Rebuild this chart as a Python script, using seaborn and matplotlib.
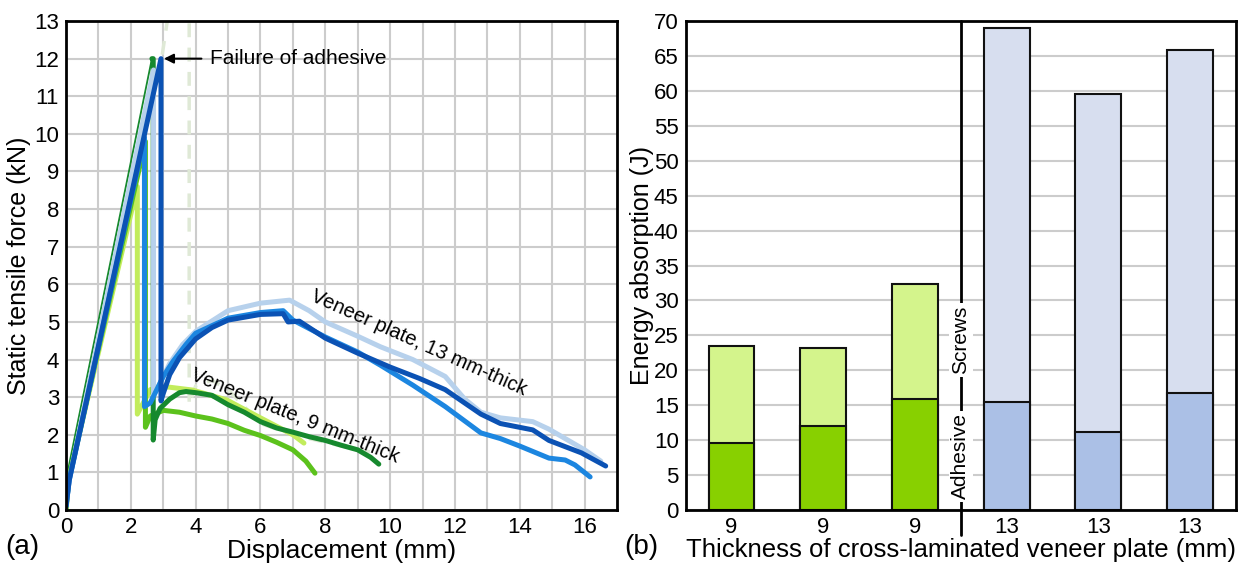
import pandas as pd
import numpy as np
import matplotlib
matplotlib.use('Agg')
import matplotlib.pyplot as plt
import seaborn as sns

# ---- (a) force-displacement curves ----
# 9 mm-thick plates
g1_x = [0, 0.08, 2.2, 2.2, 2.6, 3.15, 3.9, 4.95, 6.0, 7.0, 7.34]
g1_y = [0, 0.8, 8.6, 2.55, 3.2, 3.27, 3.19, 2.93, 2.45, 2.0, 1.78]
g2_x = [0, 0.08, 2.45, 2.45, 2.6, 3.0, 3.5, 4.0, 4.5, 5.0, 5.5, 6.0, 6.5, 7.0, 7.4, 7.68]
g2_y = [0, 0.8, 9.8, 2.2, 2.5, 2.65, 2.6, 2.5, 2.42, 2.3, 2.12, 1.98, 1.8, 1.6, 1.3, 0.98]
g3_rise_x = [0, 2.65]
g3_rise_y = [0.8, 12.0]
g3_x = [2.65, 2.69, 2.69, 2.75, 2.9, 3.2, 3.5, 3.7, 4.0, 4.5, 5.0, 5.5, 6.0, 6.5, 7.0, 7.5, 8.0,
        8.5, 9.0, 9.4, 9.65]
g3_y = [12.0, 12.0, 1.86, 2.4, 2.7, 2.95, 3.12, 3.15, 3.12, 3.05, 2.8, 2.6, 2.35, 2.18, 2.07, 1.95,
        1.85, 1.72, 1.6, 1.4, 1.22]
# 13 mm-thick plates
b1_x = [0, 0.1, 2.7, 2.7, 2.8, 3.2, 3.6, 4.0, 5.0, 6.0, 6.9, 7.5, 8.0, 9.0, 9.7, 10.7, 11.7,
        12.3, 12.8, 13.4, 14.4, 14.9, 15.5, 16.0, 16.5]
b1_y = [0.1, 0.8, 11.7, 3.05, 3.2, 3.9, 4.4, 4.75, 5.3, 5.5, 5.58, 5.3, 5.0, 4.62, 4.34, 4.0, 3.55,
        2.95, 2.6, 2.45, 2.35, 2.15, 1.85, 1.6, 1.3]
b2_x = [0, 0.1, 2.42, 2.42, 2.6, 2.8, 3.0, 3.3, 3.7, 4.0, 4.5, 5.0, 6.0, 6.7, 7.0, 8.0, 9.0, 9.7,
        10.7, 11.7, 12.8, 13.4, 14.0, 14.9, 15.4, 15.7, 16.17]
b2_y = [0.1, 0.8, 9.9, 2.75, 2.85, 3.2, 3.55, 3.95, 4.4, 4.7, 4.9, 5.1, 5.25, 5.3, 5.05, 4.6, 4.2,
        3.85, 3.32, 2.75, 2.05, 1.9, 1.7, 1.38, 1.33, 1.2, 0.88]
b3_x = [0, 0.1, 2.93, 2.93, 3.0, 3.2, 3.5, 4.0, 4.5, 5.0, 6.0, 6.7, 6.85, 7.2, 8.0, 9.0, 10.0,
        10.9, 11.7, 12.8, 13.4, 14.4, 14.9, 15.9, 16.65]
b3_y = [0.1, 0.8, 12.0, 2.9, 3.1, 3.6, 4.05, 4.55, 4.85, 5.05, 5.2, 5.22, 5.0, 5.02, 4.57, 4.17,
        3.8, 3.5, 3.2, 2.55, 2.3, 2.13, 1.85, 1.52, 1.17]
# faint dashed trace
f_x = [0, 0.1, 2.95, 3.3, 3.8, 3.8, 4.0, 4.5, 5.0, 6.0, 7.0, 8.0, 9.0, 9.7]
f_y = [0.1, 0.8, 12.0, 14.0, 14.0, 2.8, 3.3, 3.45, 3.2, 2.3, 2.0, 1.8, 1.6, 1.5]

curve_names = ['9 mm A', '9 mm B', '9 mm C', '13 mm A', '13 mm B', '13 mm C']
curve_colors = ['#c2ec5c', '#5cc21c', '#16892e', '#b7d1ec', '#1c86e0', '#0b52b4']

# ---- (b) energy absorption ----
bar_ids = ['a', 'b', 'c', 'd', 'e', 'f']
bar_labels = ['9', '9', '9', '13', '13', '13']
energy_total = [23.5, 23.2, 32.3, 69.0, 59.5, 65.8]
energy_adhesive = [9.6, 12.1, 15.9, 15.5, 11.2, 16.8]
light_cols = ['#d4f48c'] * 3 + ['#d7deef'] * 3
dark_cols = ['#88d000'] * 3 + ['#abc0e6'] * 3

sns.set_theme(style='whitegrid')
plt.rcParams['font.family'] = ['Liberation Sans', 'DejaVu Sans']
plt.rcParams['text.color'] = 'black'
plt.rcParams['axes.labelcolor'] = 'black'

fig = plt.figure(figsize=(12.41, 5.64), dpi=100)
ax1 = fig.add_axes([0.0532, 0.0957, 0.444, 0.867])
ax2 = fig.add_axes([0.5525, 0.0957, 0.4434, 0.867])

# left panel
frames = []
for name, xs, ys in zip(curve_names, [g1_x, g2_x, g3_x, b1_x, b2_x, b3_x],
                        [g1_y, g2_y, g3_y, b1_y, b2_y, b3_y]):
    frames.append(pd.DataFrame({'x': xs, 'y': ys, 'curve': name}))
curves = pd.concat(frames, ignore_index=True)

sns.lineplot(x=f_x, y=f_y, ax=ax1, color='#dfe9d6', lw=2.5, linestyle=(0, (4, 3)),
             sort=False, estimator=None)
sns.lineplot(x=g3_rise_x, y=g3_rise_y, ax=ax1, color='#16892e', lw=1.3,
             sort=False, estimator=None)
sns.lineplot(data=curves, x='x', y='y', hue='curve', hue_order=curve_names,
             palette=dict(zip(curve_names, curve_colors)), ax=ax1, lw=3.6,
             sort=False, estimator=None, legend=False,
             solid_capstyle='round', solid_joinstyle='round')

ax1.set_xlim(0, 17)
ax1.set_ylim(0, 13)
ax1.set_xticks(range(0, 17))
ax1.set_xticklabels([str(v) if v % 2 == 0 else '' for v in range(0, 17)])
ax1.set_yticks(range(0, 14))
ax1.set_xlabel('Displacement (mm)', fontsize=19, labelpad=1)
ax1.set_ylabel('Static tensile force (kN)', fontsize=18, labelpad=2)

ax1.annotate('Failure of adhesive', xy=(3.02, 12), xytext=(4.45, 12), fontsize=15,
             va='center', ha='left',
             arrowprops=dict(arrowstyle='-|>', color='black', lw=1.5,
                             shrinkA=4, shrinkB=0, mutation_scale=14))
ax1.text(7.7, 5.95, 'Veneer plate, 13 mm-thick', fontsize=14.5, rotation=-24,
         rotation_mode='anchor', ha='left', va='top')
ax1.text(3.98, 3.85, 'Veneer plate, 9 mm-thick', fontsize=14.5, rotation=-22,
         rotation_mode='anchor', ha='left', va='top')

# right panel
sns.barplot(x=bar_ids, y=energy_total, hue=bar_ids, palette=light_cols, order=bar_ids,
            width=0.5, saturation=1, edgecolor='#111111', linewidth=1.5, legend=False, ax=ax2)
sns.barplot(x=bar_ids, y=energy_adhesive, hue=bar_ids, palette=dark_cols, order=bar_ids,
            width=0.5, saturation=1, edgecolor='#111111', linewidth=1.5, legend=False, ax=ax2)
ax2.set_xlim(-0.5, 5.5)
ax2.set_ylim(0, 70)
ax2.set_yticks(range(0, 71, 5))
ax2.set_xticks(range(6))
ax2.set_xticklabels(bar_labels)
ax2.set_xlabel('Thickness of cross-laminated veneer plate (mm)', fontsize=18.5, labelpad=0)
ax2.set_ylabel('Energy absorption (J)', fontsize=18, labelpad=0)
ax2.axvline(2.5, ymin=-0.052, ymax=1, color='black', lw=2, clip_on=False, zorder=3)
ax2.text(2.5, 7.7, 'Adhesive', rotation=90, ha='center', va='center', fontsize=15, zorder=4,
         bbox=dict(facecolor='white', edgecolor='none', pad=2))
ax2.text(2.5, 24.3, 'Screws', rotation=90, ha='center', va='center', fontsize=15, zorder=4,
         bbox=dict(facecolor='white', edgecolor='none', pad=2))

for ax in (ax1, ax2):
    ax.set_facecolor('white')
    ax.grid(color='#cccccc', lw=1.5)
    ax.set_axisbelow(True)
    ax.tick_params(length=0, labelsize=16, pad=5, colors='black')
    for s in ax.spines.values():
        s.set_color('black')
        s.set_linewidth(2)
ax2.grid(axis='x', visible=False)

fig.text(0.004, 0.03, '(a)', fontsize=20, ha='left', va='center')
fig.text(0.503, 0.03, '(b)', fontsize=20, ha='left', va='center')

fig.savefig('out.png', dpi=100)
